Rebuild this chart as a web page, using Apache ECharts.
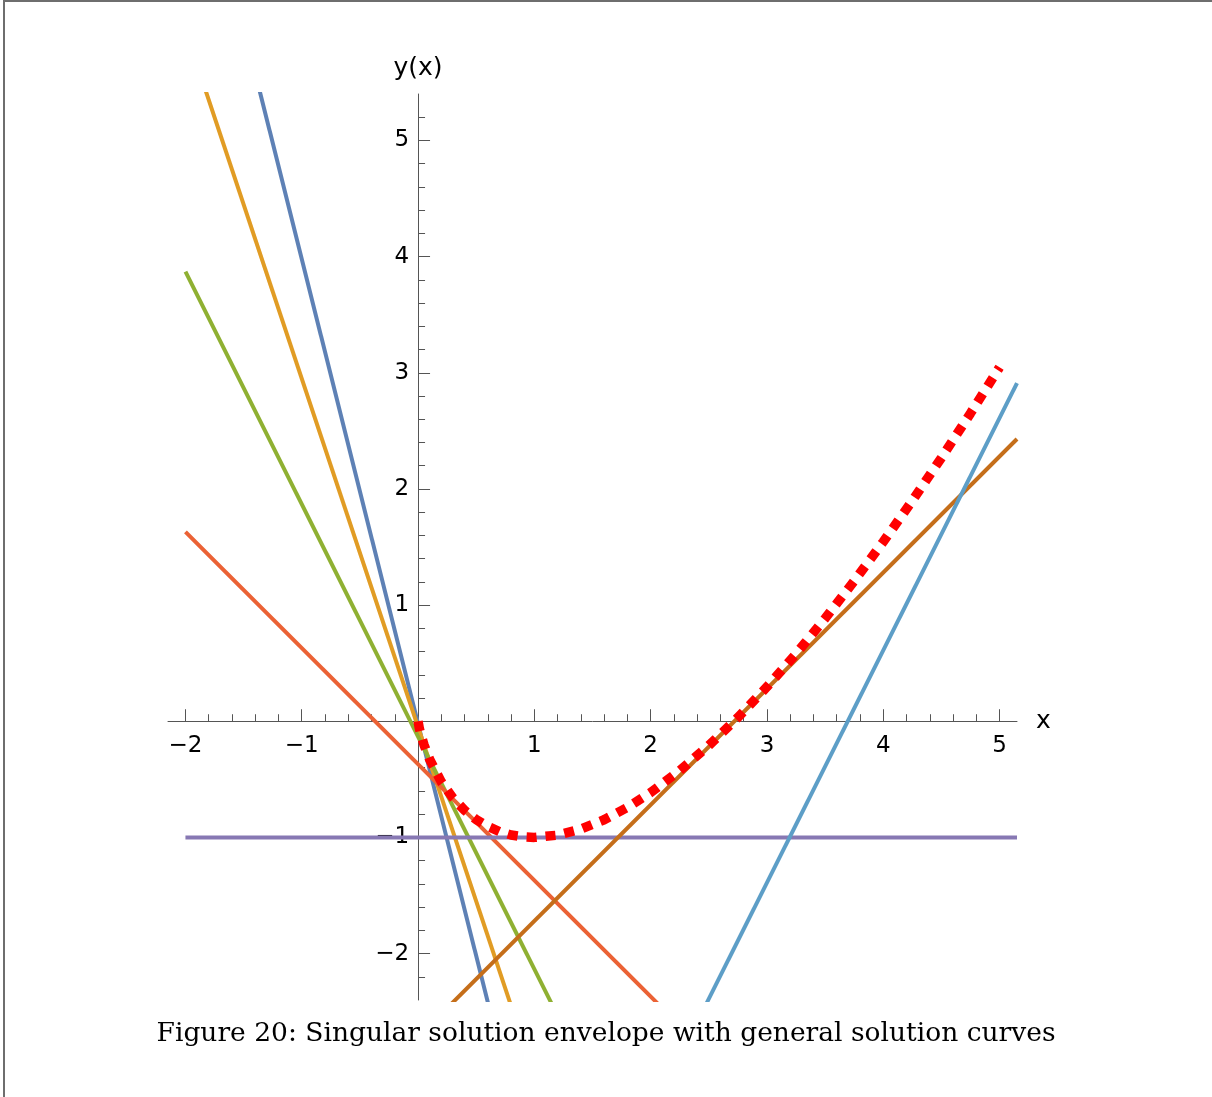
<!DOCTYPE html>
<html><head><meta charset="utf-8">
<script src="https://cdn.jsdelivr.net/npm/echarts@6/dist/echarts.min.js"></script>
<style>
html,body{margin:0;padding:0;width:1212px;height:1097px;overflow:hidden;background:#fff;}
#frame{position:absolute;left:3px;top:0px;width:1300px;height:1200px;border-top:2px solid #6e6e6e;border-left:2px solid #6e6e6e;}
#chart{position:absolute;left:0;top:0;width:1212px;height:1097px;}
</style></head><body>
<div id="frame"></div><div id="chart"></div>
<script>
// ---- data ----
const xMajorTicks = [-2, -1, 1, 2, 3, 4, 5];
const xMinorTicks = [-1.8, -1.6, -1.4, -1.2, -0.8, -0.6, -0.4, -0.2, 0.2, 0.4, 0.6, 0.8,
  1.2, 1.4, 1.6, 1.8, 2.2, 2.4, 2.6, 2.8, 3.2, 3.4, 3.6, 3.8, 4.2, 4.4, 4.6, 4.8];
const yMajorTicks = [-2, -1, 1, 2, 3, 4, 5];
const yMinorTicks = [-2.2, -1.8, -1.6, -1.4, -1.2, -0.8, -0.6, -0.4, -0.2, 0.2, 0.4, 0.6, 0.8,
  1.2, 1.4, 1.6, 1.8, 2.2, 2.4, 2.6, 2.8, 3.2, 3.4, 3.6, 3.8, 4.2, 4.4, 4.6, 4.8, 5.2];

// general solution lines (endpoints at x = -2 and x = 5.15)
const lineA = [[-2, 7.98], [5.15, -20.62]];
const lineB = [[-2, 5.95], [5.15, -15.50]];
const lineC = [[-2, 3.87], [5.15, -10.44]];
const lineD = [[-2, 1.63], [5.15, -5.52]];
const lineE = [[-2, -1.00], [5.15, -1.00]];
const lineF = [[-2, -4.72], [5.15, 2.43]];
const lineG = [[-2, -11.39], [5.15, 2.91]];
const lineColors = ['#5E81B5', '#E19C24', '#8FB032', '#EB6235', '#8778B3', '#C56E1A', '#5D9EC7'];

// singular solution (envelope)
const envX = [0, 0.01, 0.02, 0.05, 0.1, 0.2, 0.3, 0.4, 0.5, 0.6, 0.7, 0.8, 0.9, 1.0,
  1.2, 1.4, 1.6, 1.8, 2.0, 2.25, 2.5, 2.75, 3.0, 3.25, 3.5, 3.75, 4.0, 4.25, 4.5, 4.75, 5.0];
const envY = [0, -0.056, -0.098, -0.200, -0.330, -0.522, -0.661, -0.767, -0.847, -0.906, -0.950, -0.979, -0.995, -1.0,
  -0.981, -0.929, -0.848, -0.742, -0.614, -0.425, -0.209, 0.032, 0.296, 0.581, 0.885, 1.207, 1.545, 1.899, 2.268, 2.651, 3.047];

const caption = 'Figure 20: Singular solution envelope with general solution curves';

// ---- chart ----
const X_MIN = -2.15, X_MAX = 5.15, Y_MIN = -2.4, Y_MAX = 5.4;
const G_LEFT = 168, G_RIGHT = 195, G_TOP = 94, G_BOTTOM = 97, W = 1212, H = 1097;
const gw = W - G_LEFT - G_RIGHT, gh = H - G_TOP - G_BOTTOM;
// place axes through the origin (offset from grid edges)
const xAxisOffset = -(gh * (0 - Y_MIN) / (Y_MAX - Y_MIN));
const yAxisOffset = -(gw * (0 - X_MIN) / (X_MAX - X_MIN));

const fmt = v => (v < 0 ? '\u2212' + Math.abs(v) : String(v));
const axisColor = '#555';
const sans = 'DejaVu Sans, sans-serif';

const lines = [lineA, lineB, lineC, lineD, lineE, lineF, lineG];
const series = lines.map((d, i) => ({
  type: 'line', xAxisIndex: 0, yAxisIndex: 0, data: d, showSymbol: false, symbol: 'none',
  clip: true, lineStyle: { color: lineColors[i], width: 4 }, z: 2 + i
}));
series.push({
  type: 'line', xAxisIndex: 0, yAxisIndex: 0,
  data: envX.map((x, i) => [x, envY[i]]), showSymbol: false, symbol: 'none', clip: true,
  lineStyle: { color: '#ff0000', width: 9.5, type: [10, 9], cap: 'butt' }, z: 20
});

const chart = echarts.init(document.getElementById('chart'), null, { renderer: 'canvas' });
chart.setOption({
  animation: false,
  backgroundColor: 'transparent',
  title: {
    text: caption, left: 'center', top: 1016,
    textStyle: { fontFamily: 'DejaVu Serif, serif', fontWeight: 'normal', fontSize: 26.5, color: '#000' }
  },
  grid: { left: G_LEFT, right: G_RIGHT, top: G_TOP, bottom: G_BOTTOM, outerBoundsMode: 'none' },
  xAxis: [{
    type: 'value', min: X_MIN, max: X_MAX, position: 'bottom', offset: xAxisOffset,
    axisLine: { show: true, onZero: false, lineStyle: { color: axisColor, width: 1 } },
    axisTick: { show: true, inside: true, length: 12, customValues: xMajorTicks, lineStyle: { color: axisColor } },
    axisLabel: { show: true, customValues: xMajorTicks, formatter: fmt, margin: 13, fontSize: 23, fontFamily: sans, color: '#000' },
    splitLine: { show: false },
    name: 'x', nameLocation: 'end', nameGap: 19,
    nameTextStyle: { fontSize: 25, fontFamily: sans, color: '#000', align: 'left', verticalAlign: 'middle' }
  }, {
    type: 'value', min: X_MIN, max: X_MAX, position: 'bottom', offset: xAxisOffset,
    axisLine: { show: false, onZero: false },
    axisTick: { show: true, inside: true, length: 7, customValues: xMinorTicks, lineStyle: { color: axisColor } },
    axisLabel: { show: false },
    splitLine: { show: false }
  }],
  yAxis: [{
    type: 'value', min: Y_MIN, max: Y_MAX, position: 'left', offset: yAxisOffset,
    axisLine: { show: true, onZero: false, lineStyle: { color: axisColor, width: 1 } },
    axisTick: { show: true, inside: true, length: 12, customValues: yMajorTicks, lineStyle: { color: axisColor } },
    axisLabel: { show: true, customValues: yMajorTicks, formatter: fmt, margin: 9, fontSize: 23, fontFamily: sans, color: '#000' },
    splitLine: { show: false },
    name: 'y(x)', nameLocation: 'end', nameGap: 13,
    nameTextStyle: { fontSize: 25, fontFamily: sans, color: '#000' }
  }, {
    type: 'value', min: Y_MIN, max: Y_MAX, position: 'left', offset: yAxisOffset,
    axisLine: { show: false, onZero: false },
    axisTick: { show: true, inside: true, length: 7, customValues: yMinorTicks, lineStyle: { color: axisColor } },
    axisLabel: { show: false },
    splitLine: { show: false }
  }],
  series: series
});
</script></body></html>
